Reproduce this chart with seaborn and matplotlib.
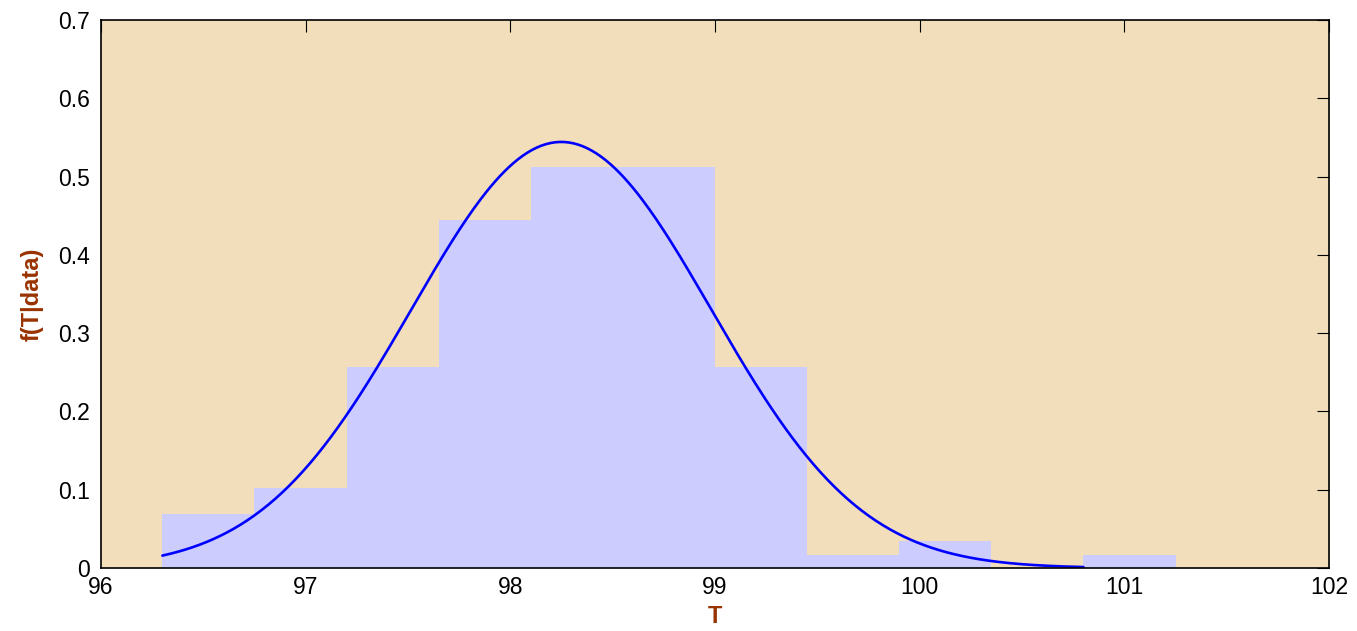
import numpy as np
import pandas as pd
import matplotlib
matplotlib.use("Agg")
import matplotlib.pyplot as plt
import seaborn as sns

# Histogram of body temperatures (density-normalised), 0.45 wide bins
bin_edges = [96.3, 96.75, 97.2, 97.65, 98.1, 98.55, 99.0, 99.45, 99.9, 100.35, 100.8, 101.25]
bin_density = [0.0684, 0.1026, 0.2564, 0.4444, 0.5128, 0.5128, 0.2564, 0.0171, 0.0342, 0.0, 0.0171]

# Fitted normal density
fit_mean = 98.249
fit_sd = 0.733
curve_range = (96.3, 100.8)

x_ticks = [96, 97, 98, 99, 100, 101, 102]
y_ticks = [0, 0.1, 0.2, 0.3, 0.4, 0.5, 0.6, 0.7]

sns.set_theme(style="white")
plt.rcParams["font.family"] = ["Liberation Sans", "DejaVu Sans"]

fig = plt.figure(figsize=(13.57, 6.31), dpi=100)
ax = fig.add_axes([0.0744, 0.0998, 0.905, 0.8685])
ax.set_facecolor("#F2DEBB")

centers = [(a + b) / 2 for a, b in zip(bin_edges[:-1], bin_edges[1:])]
hist_df = pd.DataFrame({"T": centers, "density": bin_density})
sns.histplot(data=hist_df, x="T", weights="density", bins=bin_edges,
             color="#CCCCFF", alpha=1.0, edgecolor="none", linewidth=0, ax=ax)

t = np.linspace(curve_range[0], curve_range[1], 400)
pdf = np.exp(-0.5 * ((t - fit_mean) / fit_sd) ** 2) / (fit_sd * np.sqrt(2 * np.pi))
sns.lineplot(x=t, y=pdf, color="#0000FF", linewidth=1.9, ax=ax)

ax.set_xlim(96, 102)
ax.set_ylim(0, 0.7)
ax.set_xticks(x_ticks)
ax.set_yticks(y_ticks)
ax.set_xticklabels([str(v) for v in x_ticks])
ax.set_yticklabels(["0" if v == 0 else f"{v:.1f}" for v in y_ticks])
ax.tick_params(direction="in", length=8.5, width=0.8, colors="black",
               labelsize=16.5, top=True, right=True)
ax.tick_params(axis="y", pad=8)
ax.tick_params(axis="x", pad=6)
for s in ax.spines.values():
    s.set_visible(True)
    s.set_color("black")
    s.set_linewidth(1.2)

brown = "#993300"
ax.set_xlabel("T", fontsize=17, fontweight="bold", color=brown, labelpad=4)
ax.set_ylabel("f(T|data)", fontsize=17, fontweight="bold", color=brown, labelpad=10)

fig.savefig("out.png", dpi=100, facecolor="white")
